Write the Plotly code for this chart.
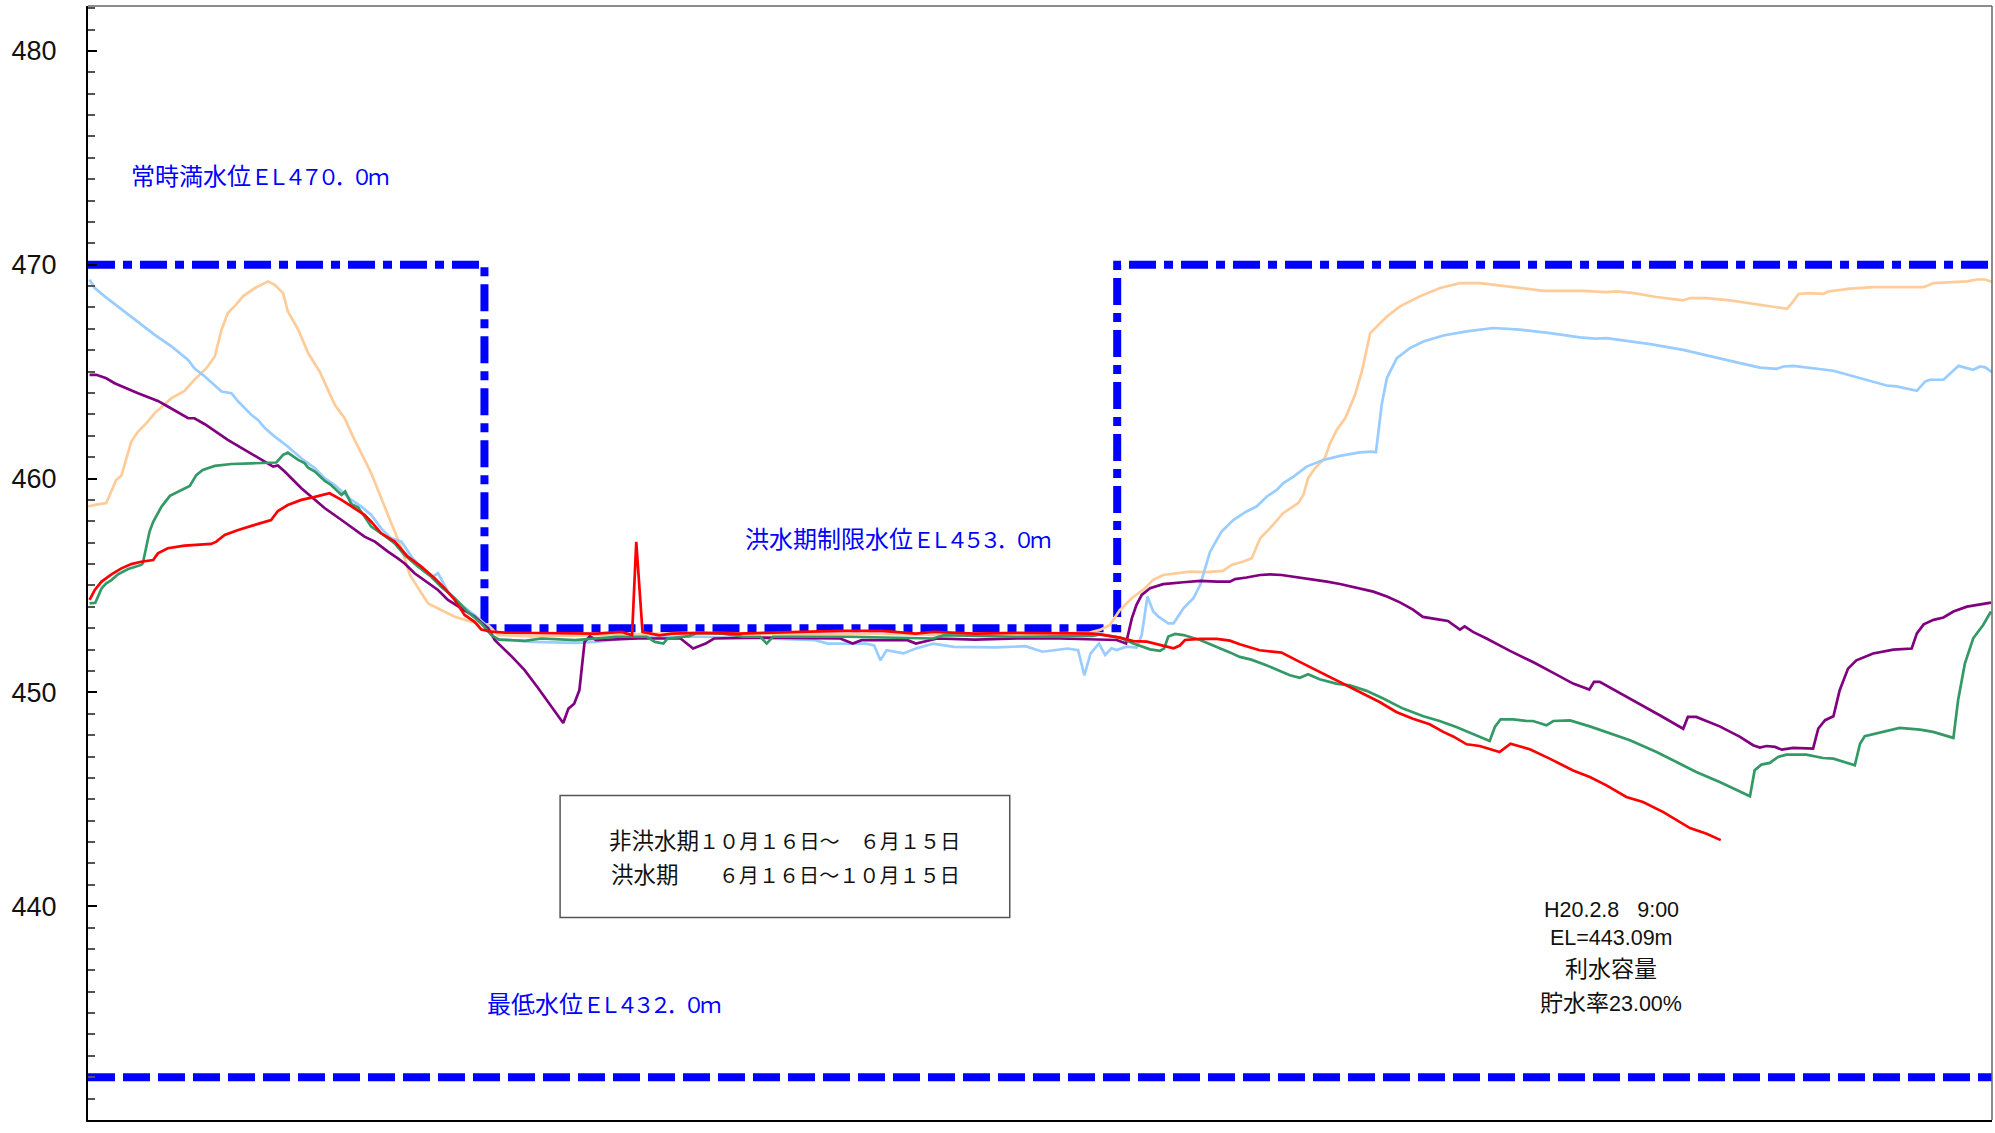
import plotly.graph_objects as go

# x = days counted from April 1 (fiscal year axis, Apr 1 .. Mar 31), y = reservoir level (EL m)

orange_days = [0, 1.3, 3.5, 5.4, 6.4, 8.3, 9.6, 11.2, 12.8, 16.0,
               18.5, 20.4, 22.7, 24.3, 25.6, 26.8, 28.4, 29.7, 32.0, 34.5,
               35.8, 37.4, 38.3, 40.3, 42.2, 44.4, 47.3, 49.2, 50.8, 54.3,
               57.5, 60.1, 61.7, 63.3, 65.2, 67.7, 70.3, 73.5, 76.7, 78.6,
               85, 95, 105, 115, 125, 135, 145, 155, 165, 175,
               185, 192, 194.0, 195.9, 197.8, 200.1, 202.6, 204.2, 206.1, 208.7,
               211.3, 214.4, 217.6, 219.2, 221.5, 223.1, 224.7, 226.6, 229.1, 232.0,
               233.0, 233.9, 235.2, 237.1, 238.1, 239.4, 241.0, 242.9, 244.2, 245.8,
               247.0, 249.0, 251.5, 254.1, 255.3, 259.2, 263.0, 266.8, 270.7, 279.0,
               286.7, 291.1, 293.1, 296.3, 300.7, 305.8, 307.1, 310.3, 314.8, 319.3,
               325.7, 326.9, 327.9, 330.1, 332.7, 333.6, 337.8, 342.3, 351.9, 353.8,
               360.2, 362.1, 363.7, 365.0]
orange_levels = [458.69, 458.77, 458.85, 459.93, 460.14, 461.73, 462.20, 462.59, 463.06, 463.76,
                 464.10, 464.62, 465.16, 465.71, 466.96, 467.74, 468.13, 468.52, 468.91, 469.22,
                 469.06, 468.67, 467.82, 466.96, 465.87, 465.01, 463.45, 462.82, 461.96, 460.25,
                 458.30, 456.74, 455.49, 454.86, 454.16, 453.85, 453.54, 453.30, 453.15, 452.68,
                 452.62, 452.66, 452.72, 452.78, 452.76, 452.70, 452.74, 452.72, 452.66, 452.70,
                 452.74, 452.80, 452.92, 453.15, 453.85, 454.40, 454.87, 455.26, 455.49, 455.57,
                 455.65, 455.62, 455.68, 455.96, 456.12, 456.27, 457.21, 457.68, 458.38, 458.85,
                 459.24, 460.02, 460.48, 460.95, 461.65, 462.28, 462.82, 463.92, 465.01, 466.80,
                 467.11, 467.58, 468.05, 468.36, 468.52, 468.91, 469.14, 469.14, 469.03, 468.78,
                 468.78, 468.72, 468.75, 468.67, 468.49, 468.33, 468.44, 468.44, 468.33, 468.17,
                 467.94, 468.28, 468.63, 468.67, 468.64, 468.75, 468.88, 468.95, 468.95, 469.14,
                 469.22, 469.31, 469.31, 469.19]

blue_days = [0.3, 1.3, 3.2, 5.75, 9.6, 12.8, 16.0, 19.2, 20.4, 22.4,
             25.6, 27.5, 28.8, 31.3, 32.6, 33.9, 35.8, 38.3, 40.9, 43.5,
             45.4, 47.3, 50.5, 52.4, 54.3, 56.2, 58.1, 60.1, 62.0, 64.5,
             66.1, 67.1, 69.0, 71.6, 74.1, 76.7, 78.0, 85.3, 93.4, 97.4,
             105.5, 117.6, 129.7, 139.4, 141.8, 149.1, 150.7, 151.9, 153.1, 156.3,
             158.7, 162.0, 166.0, 174.1, 179.7, 183.0, 187.8, 189.8, 191.0, 192.2,
             193.8, 195.0, 196.2, 197.2, 199.1, 201.0, 202.0, 203.1, 204.2, 205.2,
             207.1, 208.1, 210.0, 211.9, 213.2, 215.1, 217.3, 219.6, 222.1, 224.0,
             226.0, 227.9, 229.1, 231.1, 233.6, 236.8, 240.0, 243.8, 246.1, 246.9,
             248.0, 249.0, 250.9, 253.4, 256.0, 259.8, 264.3, 269.4, 274.5, 280.3,
             286.0, 288.9, 291.1, 295.0, 299.5, 305.8, 309.7, 312.9, 316.7, 320.5,
             323.7, 325.0, 326.9, 334.6, 337.8, 342.3, 344.8, 346.7, 350.6, 352.2,
             353.1, 355.7, 358.6, 361.4, 362.7, 363.7, 365.0]
blue_levels = [469.30, 468.91, 468.52, 468.05, 467.35, 466.72, 466.18, 465.55, 465.16, 464.77,
               464.07, 463.99, 463.60, 462.98, 462.74, 462.36, 461.96, 461.50, 460.95, 460.48,
               460.01, 459.70, 459.00, 458.69, 458.30, 457.67, 457.20, 457.05, 456.35, 455.64,
               455.41, 455.57, 454.71, 454.08, 453.62, 453.07, 452.50, 452.36, 452.31, 452.36,
               452.60, 452.60, 452.52, 452.44, 452.28, 452.28, 452.20, 451.50, 451.97, 451.82,
               452.05, 452.28, 452.13, 452.10, 452.16, 451.90, 452.05, 451.97, 450.80, 451.82,
               452.28, 451.75, 452.06, 451.98, 452.14, 452.09, 452.68, 454.48, 453.78, 453.54,
               453.23, 453.23, 453.93, 454.40, 455.02, 456.58, 457.52, 458.07, 458.46, 458.69,
               459.16, 459.47, 459.78, 460.09, 460.56, 460.87, 461.06, 461.22, 461.26, 461.23,
               463.45, 464.70, 465.63, 466.10, 466.41, 466.69, 466.88, 467.04, 466.96, 466.80,
               466.60, 466.54, 466.57, 466.44, 466.29, 466.02, 465.79, 465.60, 465.40, 465.19,
               465.13, 465.24, 465.27, 465.04, 464.82, 464.51, 464.35, 464.31, 464.10, 464.54,
               464.62, 464.62, 465.27, 465.09, 465.24, 465.20, 464.98]

purple_days = [0.3, 1.6, 3.5, 5.1, 9.6, 13.4, 15.3, 19.2, 20.4, 22.4,
               26.8, 30.7, 33.2, 35.5, 36.4, 37.7, 40.9, 42.8, 45.4, 48.6,
               53.0, 55.0, 57.5, 59.4, 60.7, 62.6, 67.1, 69.0, 71.6, 74.1,
               76.7, 78.0, 81.3, 83.7, 86.1, 87.7, 91.1, 92.1, 93.2, 94.2,
               95.2, 96.2, 97.4, 105.5, 113.6, 116.0, 118.4, 120.0, 129.7, 144.2,
               146.6, 148.3, 157.1, 158.7, 160.0, 162.8, 170.0, 178.1, 186.2, 194.0,
               197.2, 199.0, 200.1, 201.0, 202.0, 203.6, 206.1, 210.0, 213.2, 216.4,
               218.9, 219.9, 222.1, 224.7, 226.6, 228.8, 231.1, 234.9, 237.5, 240.0,
               243.8, 246.4, 249.0, 251.5, 254.0, 255.9, 259.1, 260.7, 263.0, 263.9,
               265.5, 268.1, 272.6, 277.0, 280.9, 284.7, 287.8, 288.7, 289.8, 296.8,
               301.3, 305.8, 306.7, 308.3, 312.8, 316.7, 319.2, 320.5, 321.8, 323.4,
               324.7, 326.9, 330.7, 331.7, 333.0, 334.6, 335.8, 337.4, 339.0, 342.2,
               346.1, 349.6, 350.6, 351.9, 353.8, 355.7, 357.6, 360.2, 362.7, 364.8]
purple_levels = [464.85, 464.85, 464.69, 464.46, 463.99, 463.63, 463.37, 462.82, 462.82, 462.54,
                 461.81, 461.26, 460.87, 460.56, 460.61, 460.33, 459.55, 459.15, 458.61, 458.06,
                 457.28, 457.05, 456.58, 456.27, 456.03, 455.57, 454.79, 454.32, 453.93, 453.54,
                 452.99, 452.44, 451.66, 451.04, 450.26, 449.71, 448.57, 449.24, 449.47, 450.10,
                 452.36, 452.62, 452.44, 452.52, 452.52, 452.05, 452.28, 452.52, 452.56, 452.52,
                 452.28, 452.44, 452.44, 452.28, 452.36, 452.52, 452.47, 452.52, 452.52, 452.45,
                 452.45, 452.29, 453.46, 454.09, 454.56, 454.87, 455.06, 455.15, 455.21, 455.18,
                 455.18, 455.30, 455.37, 455.49, 455.52, 455.49, 455.41, 455.30, 455.18, 455.07,
                 454.87, 454.71, 454.48, 454.21, 453.87, 453.53, 453.40, 453.34, 452.94, 453.09,
                 452.83, 452.52, 451.94, 451.42, 450.91, 450.41, 450.13, 450.49, 450.49, 449.55,
                 448.93, 448.30, 448.85, 448.85, 448.41, 447.92, 447.53, 447.42, 447.49, 447.45,
                 447.32, 447.40, 447.37, 448.31, 448.70, 448.88, 450.10, 451.11, 451.50, 451.82,
                 452.00, 452.05, 452.76, 453.18, 453.39, 453.50, 453.78, 454.01, 454.13, 454.20]

green_days = [0.3, 1.4, 2.6, 3.5, 4.5, 5.75, 7.7, 10.2, 10.5, 11.8,
              12.5, 14.1, 15.7, 17.3, 19.5, 20.8, 22.0, 24.3, 27.5, 31.3,
              36.1, 37.4, 38.3, 40.3, 41.5, 42.2, 43.5, 45.4, 46.6, 48.6,
              49.3, 50.5, 51.8, 53.0, 54.3, 56.2, 58.8, 60.7, 63.3, 65.8,
              67.7, 70.3, 72.8, 75.4, 77.3, 78.8, 83.7, 86.9, 93.4, 101.4,
              107.1, 108.7, 110.3, 111.1, 115.2, 116.8, 121.6, 125.7, 128.9, 130.1,
              131.3, 145.8, 162.0, 164.0, 178.1, 192.6, 194.0, 197.8, 200.4, 203.6,
              205.5, 206.3, 207.1, 208.4, 210.0, 213.2, 216.4, 218.9, 220.8, 223.0,
              225.9, 230.4, 232.3, 233.9, 236.1, 239.3, 241.9, 245.1, 248.3, 252.1,
              256.0, 259.1, 262.3, 265.5, 268.7, 269.7, 270.8, 273.2, 275.8, 277.0,
              279.6, 280.9, 284.1, 287.9, 291.1, 295.6, 300.7, 304.5, 308.3, 312.8,
              318.6, 319.5, 320.8, 322.4, 324.0, 325.6, 329.4, 332.6, 334.6, 338.7,
              339.7, 340.6, 343.5, 345.7, 347.3, 351.2, 353.7, 357.6, 358.5, 359.8,
              361.4, 363.3, 364.8]
green_levels = [454.16, 454.19, 454.86, 455.10, 455.25, 455.52, 455.77, 455.96, 456.03, 457.52,
                457.98, 458.69, 459.19, 459.39, 459.65, 460.17, 460.40, 460.59, 460.68, 460.71,
                460.75, 461.11, 461.21, 460.87, 460.72, 460.51, 460.33, 459.89, 459.70, 459.23,
                459.39, 458.80, 458.64, 458.22, 457.75, 457.44, 456.97, 456.42, 455.88, 455.41,
                454.94, 454.40, 453.77, 453.22, 452.68, 452.47, 452.41, 452.52, 452.44, 452.60,
                452.60, 452.36, 452.28, 452.52, 452.63, 452.78, 452.75, 452.60, 452.60, 452.28,
                452.60, 452.60, 452.52, 452.67, 452.60, 452.64, 452.71, 452.56, 452.29, 452.01,
                451.94, 452.06, 452.61, 452.73, 452.68, 452.45, 452.14, 451.87, 451.66, 451.53,
                451.27, 450.80, 450.68, 450.85, 450.61, 450.41, 450.33, 450.07, 449.71, 449.24,
                448.88, 448.66, 448.38, 448.07, 447.73, 448.38, 448.74, 448.74, 448.66, 448.66,
                448.46, 448.66, 448.69, 448.41, 448.15, 447.76, 447.21, 446.75, 446.28, 445.81,
                445.14, 446.36, 446.62, 446.70, 446.98, 447.09, 447.09, 446.93, 446.90, 446.59,
                447.60, 447.95, 448.12, 448.26, 448.34, 448.26, 448.15, 447.87, 449.63, 451.35,
                452.53, 453.15, 453.78]

red_days = [0.3, 1.3, 2.6, 4.5, 6.4, 8.3, 10.2, 12.5, 13.4, 15.3,
            18.5, 23.6, 24.6, 26.2, 28.8, 30.7, 32.6, 35.1, 36.4, 38.3,
            40.9, 43.5, 46.3, 48.6, 51.1, 53.0, 54.3, 56.2, 58.8, 61.3,
            63.9, 66.5, 68.4, 70.3, 72.2, 74.1, 75.4, 77.3, 79.9, 89.3,
            97.4, 102.3, 104.3, 105.1, 106.3, 109.5, 111.9, 117.6, 124.8, 144.2,
            152.3, 158.7, 162.0, 170.0, 178.1, 192.6, 194.0, 197.8, 200.4, 203.0,
            205.5, 208.1, 209.3, 210.3, 213.2, 216.4, 218.9, 220.8, 224.6, 228.8,
            232.0, 237.4, 240.6, 245.1, 247.6, 250.8, 254.0, 257.2, 259.8, 261.7,
            264.3, 266.8, 270.6, 272.7, 276.4, 280.2, 284.7, 287.9, 291.1, 294.9,
            298.1, 302.0, 307.1, 310.3, 313.0]
red_levels = [454.32, 454.79, 455.18, 455.52, 455.80, 456.00, 456.11, 456.19, 456.50, 456.74,
              456.86, 456.94, 457.05, 457.36, 457.59, 457.72, 457.88, 458.06, 458.48, 458.76,
              459.00, 459.14, 459.31, 459.00, 458.61, 458.30, 457.98, 457.44, 457.05, 456.35,
              455.88, 455.33, 454.86, 454.32, 453.62, 453.30, 452.94, 452.84, 452.79, 452.78,
              452.75, 452.83, 452.67, 457.04, 452.83, 452.67, 452.75, 452.78, 452.75, 452.88,
              452.88, 452.75, 452.83, 452.75, 452.78, 452.75, 452.71, 452.56, 452.40, 452.37,
              452.22, 452.06, 452.19, 452.45, 452.50, 452.50, 452.42, 452.25, 451.97, 451.86,
              451.46, 450.80, 450.38, 449.86, 449.55, 449.08, 448.77, 448.51, 448.15, 447.94,
              447.57, 447.49, 447.21, 447.60, 447.34, 446.90, 446.35, 446.04, 445.65, 445.11,
              444.87, 444.40, 443.65, 443.39, 443.09]

# operating rule levels
rule_days = [0, 76, 76, 197.3, 197.3, 365]
rule_levels = [470.0, 470.0, 453.0, 453.0, 470.0, 470.0]
low_days = [0, 365]
low_levels = [432.0, 432.0]

y_ticks = [430, 440, 450, 460, 470, 480]
y_tick_labels = ["430", "440", "450", "460", "470", "480"]

series = [
    (orange_days, orange_levels, "#FFCC99"),
    (blue_days, blue_levels, "#99CCFF"),
    (purple_days, purple_levels, "#800080"),
    (green_days, green_levels, "#339966"),
    (red_days, red_levels, "#FF0000"),
]
for d, v, _ in series:
    assert len(d) == len(v), (len(d), len(v))

fig = go.Figure()

fig.add_trace(go.Scatter(x=low_days, y=low_levels, mode="lines",
                         line=dict(color="#0000FF", width=8, dash="27px,8px"),
                         hoverinfo="skip"))
fig.add_trace(go.Scatter(x=rule_days, y=rule_levels, mode="lines",
                         line=dict(color="#0000FF", width=8, dash="27px,8px,9px,8px"),
                         hoverinfo="skip"))

for d, v, c in series:
    fig.add_trace(go.Scatter(x=d, y=v, mode="lines",
                             line=dict(color=c, width=2.7),
                             hoverinfo="skip"))


def blue_label(cjk, rest):
    return (f'<span style="font-size:24px">{cjk}</span>'
            f'<span style="font-size:21.5px;letter-spacing:-4.8px">{rest}</span>')


def two_size(cjk, rest, big, small):
    return (f'<span style="font-size:{big}px">{cjk}</span>'
            f'<span style="font-size:{small}px">{rest}</span>')


blue_font = dict(family="Noto Sans CJK JP", size=21, color="#0000FF")
fig.add_annotation(x=7.9, y=474.22, text=blue_label("常時満水位", "ＥＬ４７０．０ｍ"),
                   showarrow=False, xanchor="left", yanchor="middle", font=blue_font)
fig.add_annotation(x=125.6, y=457.25, text=blue_label("洪水期制限水位", "ＥＬ４５３．０ｍ"),
                   showarrow=False, xanchor="left", yanchor="middle", font=blue_font)
fig.add_annotation(x=76.1, y=435.50, text=blue_label("最低水位", "ＥＬ４３２．０ｍ"),
                   showarrow=False, xanchor="left", yanchor="middle", font=blue_font)

fig.add_shape(type="rect", x0=90.5, x1=176.7, y0=439.47, y1=445.18,
              line=dict(color="#555555", width=1.5), fillcolor="rgba(0,0,0,0)")
box_font = dict(family="Noto Sans CJK JP", size=20, color="#111111")
fig.add_annotation(x=99.5, y=443.14, text=two_size("非洪水期", "１０月１６日～　６月１５日", 22.5, 20.1),
                   showarrow=False, xanchor="left", yanchor="middle", font=box_font)
fig.add_annotation(x=99.9, y=441.56, text=two_size("洪水期", "　　６月１６日～１０月１５日", 22.5, 20.1),
                   showarrow=False, xanchor="left", yanchor="middle", font=box_font)

note_font = dict(family="Liberation Sans, Noto Sans CJK JP", size=21.5, color="#111111")
cjk_span = '<span style="font-family:Noto Sans CJK JP;font-size:23px">'
note_lines = [
    (439.83, "H20.2.8\u00a0\u00a0\u00a09:00"),
    (438.52, "EL=443.09m"),
    (437.14, cjk_span + "利水容量</span>"),
    (435.55, cjk_span + "貯水率</span><span>23.00%</span>"),
]
for ly, lt in note_lines:
    fig.add_annotation(x=292.0, y=ly, text=lt, showarrow=False,
                       xanchor="center", yanchor="middle", font=note_font)

# top and right frame lines (thin grey)
fig.add_shape(type="line", xref="paper", yref="paper", x0=0, x1=1, y0=1, y1=1,
              line=dict(color="#666666", width=1.5))
fig.add_shape(type="line", xref="paper", yref="paper", x0=1, x1=1, y0=0, y1=1,
              line=dict(color="#666666", width=1.5))

fig.update_layout(
    width=1995, height=1133,
    margin=dict(l=88, r=3, t=6, b=13),
    plot_bgcolor="white", paper_bgcolor="white",
    showlegend=False,
    xaxis=dict(range=[0, 365], showticklabels=False, showgrid=False, zeroline=False,
               showline=True, linecolor="black", linewidth=2, ticks=""),
    yaxis=dict(range=[430, 482.1], tickvals=y_ticks, ticktext=y_tick_labels,
               showgrid=False, zeroline=False, showline=True, linecolor="black", linewidth=2,
               ticks="inside", ticklen=9, tickwidth=1.5, tickcolor="black",
               ticklabelstandoff=24,
               tickfont=dict(family="Liberation Sans", size=27, color="#111111"),
               minor=dict(dtick=1, tick0=430, ticks="inside", ticklen=7,
                          tickwidth=1.5, tickcolor="#555555")),
)

fig.write_html("out.html", config={"displayModeBar": False},
               post_script="document.body.style.margin='0px';document.body.style.overflow='hidden';")
